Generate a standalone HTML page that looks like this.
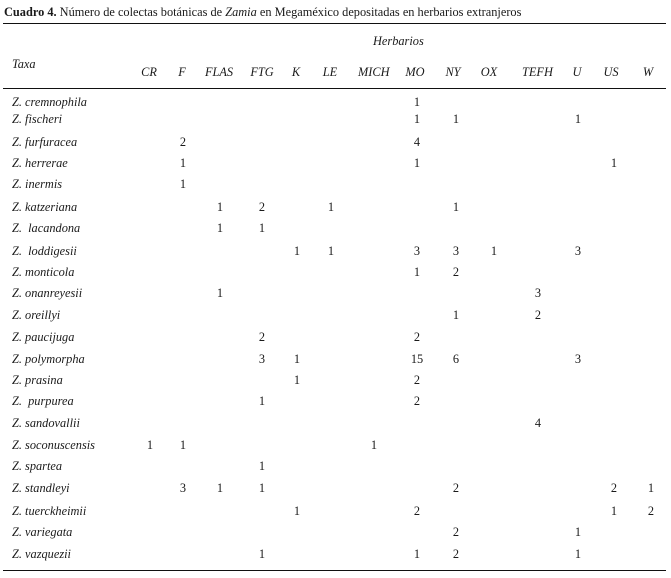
<!DOCTYPE html>
<html>
<head>
<meta charset="utf-8">
<style>
  html, body { margin:0; padding:0; background:#fff; }
  body { width:671px; height:578px; position:relative; overflow:hidden;
         font-family:"Liberation Serif", "DejaVu Serif", serif; color:#1a1a1a; font-size:12.35px; }
  .t { position:absolute; white-space:nowrap; line-height:14px; }
  .c { position:absolute; width:30px; text-align:center; line-height:14px; }
  .i { font-style:italic; }
  .line { position:absolute; left:3px; width:663px; height:1px; background:#111; }
</style>
</head>
<body>
<div class="t" style="left:4px;top:5px;"><b>Cuadro 4.</b> Número de colectas botánicas de <i>Zamia</i> en Megaméxico depositadas en herbarios extranjeros</div>
<div class="line" style="top:23px;"></div>
<div class="t i" style="left:373px;top:34px;">Herbarios</div>
<div class="t i" style="left:12px;top:57px;">Taxa</div>

<div class="c i" style="left:134px;top:65px;">CR</div>
<div class="c i" style="left:167px;top:65px;">F</div>
<div class="c i" style="left:204px;top:65px;">FLAS</div>
<div class="c i" style="left:247px;top:65px;">FTG</div>
<div class="c i" style="left:281px;top:65px;">K</div>
<div class="c i" style="left:315px;top:65px;">LE</div>
<div class="c i" style="left:358px;top:65px;">MICH</div>
<div class="c i" style="left:400px;top:65px;">MO</div>
<div class="c i" style="left:438px;top:65px;">NY</div>
<div class="c i" style="left:474px;top:65px;">OX</div>
<div class="c i" style="left:522px;top:65px;">TEFH</div>
<div class="c i" style="left:562px;top:65px;">U</div>
<div class="c i" style="left:596px;top:65px;">US</div>
<div class="c i" style="left:633px;top:65px;">W</div>

<div class="line" style="top:88px;"></div>

<div class="t i" style="left:12px;top:95px;">Z. cremnophila</div>
<div class="t i" style="left:12px;top:112px;">Z. fischeri</div>
<div class="t i" style="left:12px;top:135px;">Z. furfuracea</div>
<div class="t i" style="left:12px;top:156px;">Z. herrerae</div>
<div class="t i" style="left:12px;top:177px;">Z. inermis</div>
<div class="t i" style="left:12px;top:200px;">Z. katzeriana</div>
<div class="t i" style="left:12px;top:221px;">Z. &nbsp;lacandona</div>
<div class="t i" style="left:12px;top:244px;">Z. &nbsp;loddigesii</div>
<div class="t i" style="left:12px;top:265px;">Z. monticola</div>
<div class="t i" style="left:12px;top:286px;">Z. onanreyesii</div>
<div class="t i" style="left:12px;top:308px;">Z. oreillyi</div>
<div class="t i" style="left:12px;top:330px;">Z. paucijuga</div>
<div class="t i" style="left:12px;top:352px;">Z. polymorpha</div>
<div class="t i" style="left:12px;top:373px;">Z. prasina</div>
<div class="t i" style="left:12px;top:394px;">Z. &nbsp;purpurea</div>
<div class="t i" style="left:12px;top:416px;">Z. sandovallii</div>
<div class="t i" style="left:12px;top:438px;">Z. soconuscensis</div>
<div class="t i" style="left:12px;top:459px;">Z. spartea</div>
<div class="t i" style="left:12px;top:481px;">Z. standleyi</div>
<div class="t i" style="left:12px;top:504px;">Z. tuerckheimii</div>
<div class="t i" style="left:12px;top:525px;">Z. variegata</div>
<div class="t i" style="left:12px;top:547px;">Z. vazquezii</div>

<div class="c" style="left:402px;top:95px;">1</div>
<div class="c" style="left:402px;top:112px;">1</div>
<div class="c" style="left:441px;top:112px;">1</div>
<div class="c" style="left:563px;top:112px;">1</div>
<div class="c" style="left:168px;top:135px;">2</div>
<div class="c" style="left:402px;top:135px;">4</div>
<div class="c" style="left:168px;top:156px;">1</div>
<div class="c" style="left:402px;top:156px;">1</div>
<div class="c" style="left:599px;top:156px;">1</div>
<div class="c" style="left:168px;top:177px;">1</div>
<div class="c" style="left:205px;top:200px;">1</div>
<div class="c" style="left:247px;top:200px;">2</div>
<div class="c" style="left:316px;top:200px;">1</div>
<div class="c" style="left:441px;top:200px;">1</div>
<div class="c" style="left:205px;top:221px;">1</div>
<div class="c" style="left:247px;top:221px;">1</div>
<div class="c" style="left:282px;top:244px;">1</div>
<div class="c" style="left:316px;top:244px;">1</div>
<div class="c" style="left:402px;top:244px;">3</div>
<div class="c" style="left:441px;top:244px;">3</div>
<div class="c" style="left:479px;top:244px;">1</div>
<div class="c" style="left:563px;top:244px;">3</div>
<div class="c" style="left:402px;top:265px;">1</div>
<div class="c" style="left:441px;top:265px;">2</div>
<div class="c" style="left:205px;top:286px;">1</div>
<div class="c" style="left:523px;top:286px;">3</div>
<div class="c" style="left:441px;top:308px;">1</div>
<div class="c" style="left:523px;top:308px;">2</div>
<div class="c" style="left:247px;top:330px;">2</div>
<div class="c" style="left:402px;top:330px;">2</div>
<div class="c" style="left:247px;top:352px;">3</div>
<div class="c" style="left:282px;top:352px;">1</div>
<div class="c" style="left:402px;top:352px;">15</div>
<div class="c" style="left:441px;top:352px;">6</div>
<div class="c" style="left:563px;top:352px;">3</div>
<div class="c" style="left:282px;top:373px;">1</div>
<div class="c" style="left:402px;top:373px;">2</div>
<div class="c" style="left:247px;top:394px;">1</div>
<div class="c" style="left:402px;top:394px;">2</div>
<div class="c" style="left:523px;top:416px;">4</div>
<div class="c" style="left:135px;top:438px;">1</div>
<div class="c" style="left:168px;top:438px;">1</div>
<div class="c" style="left:359px;top:438px;">1</div>
<div class="c" style="left:247px;top:459px;">1</div>
<div class="c" style="left:168px;top:481px;">3</div>
<div class="c" style="left:205px;top:481px;">1</div>
<div class="c" style="left:247px;top:481px;">1</div>
<div class="c" style="left:441px;top:481px;">2</div>
<div class="c" style="left:599px;top:481px;">2</div>
<div class="c" style="left:636px;top:481px;">1</div>
<div class="c" style="left:282px;top:504px;">1</div>
<div class="c" style="left:402px;top:504px;">2</div>
<div class="c" style="left:599px;top:504px;">1</div>
<div class="c" style="left:636px;top:504px;">2</div>
<div class="c" style="left:441px;top:525px;">2</div>
<div class="c" style="left:563px;top:525px;">1</div>
<div class="c" style="left:247px;top:547px;">1</div>
<div class="c" style="left:402px;top:547px;">1</div>
<div class="c" style="left:441px;top:547px;">2</div>
<div class="c" style="left:563px;top:547px;">1</div>

<div class="line" style="top:570px;"></div>
</body>
</html>
